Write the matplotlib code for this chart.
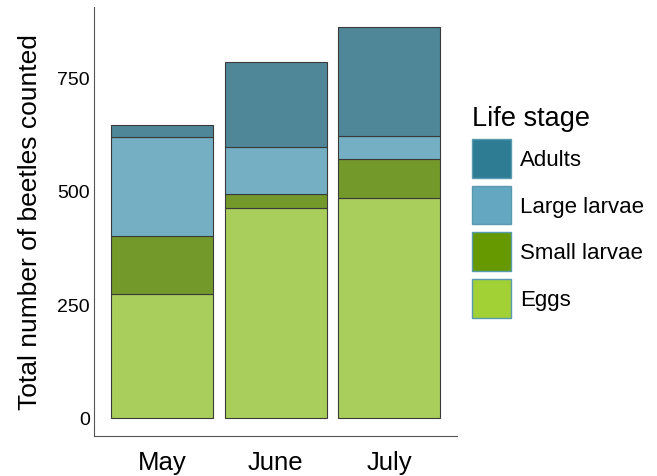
import matplotlib.pyplot as plt
from matplotlib.patches import Patch

plt.rcParams['font.family'] = ['Liberation Sans', 'DejaVu Sans']

months = ["May", "June", "July"]
stages = ["Eggs", "Small larvae", "Large larvae", "Adults"]
eggs = [273, 462, 484]
small_larvae = [127, 31, 86]
large_larvae = [218, 103, 50]
adults = [26, 187, 240]
# legend key colours and the (lighter) bar fills
key_colors = ["#a2d135", "#669900", "#63a7c0", "#2e7b94"]
bar_colors = ["#a9ce5c", "#74992b", "#74afc4", "#4f8799"]

fig = plt.figure(figsize=(6.57, 4.77), dpi=100)
ax = fig.add_axes([0.143, 0.084, 0.553, 0.899])

x = range(len(months))
bottom = [0, 0, 0]
for vals, col in zip([eggs, small_larvae, large_larvae, adults], bar_colors):
    ax.bar(x, vals, width=0.9, bottom=bottom, color=col,
           edgecolor="#3a3a3a", linewidth=0.8)
    bottom = [b + v for b, v in zip(bottom, vals)]

ax.set_xlim(-0.6, 2.6)
ax.set_ylim(-40, 904)
ax.set_xticks(list(x))
ax.set_xticklabels(months, fontsize=18.5)
ax.set_yticks([0, 250, 500, 750])
ax.tick_params(axis="y", labelsize=14, length=0, pad=3)
ax.tick_params(axis="x", length=0, pad=10)
ax.set_ylabel("Total number of beetles counted", fontsize=19, labelpad=11)
for s in ["top", "right"]:
    ax.spines[s].set_visible(False)
for s in ["left", "bottom"]:
    ax.spines[s].set_color("#555555")
    ax.spines[s].set_linewidth(0.8)

handles = [Patch(facecolor=c, edgecolor="#5a9ab0", label=n)
           for n, c in zip(stages[::-1], key_colors[::-1])]
fig.legend(handles=handles, title="Life stage", loc="upper left",
           bbox_to_anchor=(472 / 657, 0.778), frameon=False, fontsize=16,
           title_fontsize=19.5, handlelength=1.77, handleheight=2.3,
           labelspacing=0.36, handletextpad=0.4, alignment="left",
           borderpad=0, borderaxespad=0)

fig.savefig("out.png", dpi=100)
